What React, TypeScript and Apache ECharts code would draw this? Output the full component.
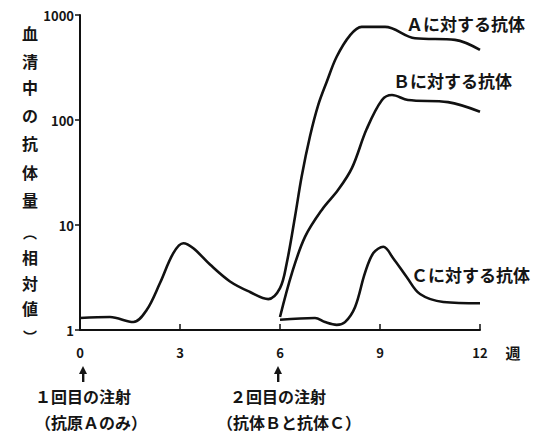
import React, { useEffect, useRef } from "react";
import * as echarts from "echarts";

// Antigen A: first injection (week 0), then second injection at week 6
const weeksA = [0, 0.9, 1.6, 2.0, 2.4, 2.8, 3.1, 3.4, 3.9, 4.5, 5.1, 5.65, 6.0, 6.2, 6.45, 6.65, 6.9, 7.15, 7.4, 7.7, 8.1, 8.45, 9.15, 10.05, 11.25, 12];
const valuesA = [1.3, 1.33, 1.19, 1.55, 2.8, 5.4, 6.7, 6.0, 4.2, 2.9, 2.3, 1.97, 2.5, 4.3, 12, 29, 70, 140, 230, 400, 640, 770, 770, 600, 580, 465];

const weeksB = [6.0, 6.36, 6.75, 7.26, 7.74, 8.16, 8.6, 9.06, 9.36, 9.84, 11.04, 12];
const valuesB = [1.33, 3.5, 7.7, 14, 21.5, 35, 82, 155, 173, 155, 148, 120];

const weeksC = [6.0, 7.05, 7.35, 7.7, 7.95, 8.25, 8.55, 8.8, 9.1, 9.4, 9.8, 10.2, 10.9, 12];
const valuesC = [1.25, 1.3, 1.19, 1.12, 1.19, 1.65, 3.5, 5.4, 6.2, 4.8, 3.2, 2.2, 1.85, 1.8];

const xTicks = [0, 3, 6, 9, 12];
const yTicks = [1, 10, 100, 1000];

const seriesLabels = ["Ａに対する抗体", "Ｂに対する抗体", "Ｃに対する抗体"];
const yNameChars = ["血", "清", "中", "の", "抗", "体", "量", "︵", "相", "対", "値", "︶"];
const injectionLabels = [
  ["１回目の注射", "（抗原Ａのみ）"],
  ["２回目の注射", "（抗体Ｂと抗体Ｃ）"],
];
const xUnit = "週";

const FONT = '"Noto Sans CJK JP", "Noto Sans", sans-serif';
const INK = "#151515";

function pairs(xs: number[], ys: number[]) {
  return xs.map((x, i) => [x, ys[i]]);
}

export default function App() {
  const ref = useRef<HTMLDivElement>(null);
  useEffect(() => {
    if (!ref.current) return;
    const chart = echarts.init(ref.current, undefined, { renderer: "svg" });

    const labelPos = [
      [406, 23],
      [393, 80],
      [411, 274],
    ];
    const yNameY = [33, 61, 87, 115, 143, 172, 200, 232, 257, 283, 308, 336];

    const graphics: any[] = [];
    seriesLabels.forEach((t, i) => {
      graphics.push({
        type: "text",
        x: labelPos[i][0],
        y: labelPos[i][1],
        style: { text: t, font: `bold 17px ${FONT}`, fill: INK, verticalAlign: "middle" },
      });
    });
    yNameChars.forEach((c, i) => {
      const paren = c === "︵" || c === "︶";
      graphics.push({
        type: "text",
        x: 30,
        y: yNameY[i],
        style: {
          text: c,
          font: `bold ${paren ? 14 : 16}px ${FONT}`,
          fill: INK,
          align: "center",
          verticalAlign: "middle",
        },
      });
    });
    // arrows + injection captions
    const arrowX = [83, 278];
    const capLeft = [
      [35, 35],
      [230, 217],
    ];
    arrowX.forEach((ax, i) => {
      graphics.push({
        type: "polygon",
        shape: { points: [[ax, 366], [ax - 4, 374], [ax + 4, 374]] },
        style: { fill: INK },
      });
      graphics.push({
        type: "rect",
        shape: { x: ax - 1, y: 372, width: 2.4, height: 10 },
        style: { fill: INK },
      });
      injectionLabels[i].forEach((t, j) => {
        graphics.push({
          type: "text",
          x: capLeft[i][j],
          y: j === 0 ? 396 : 422,
          style: {
            text: t,
            font: `bold 16px ${FONT}`,
            fill: INK,
            verticalAlign: "middle",
          },
        });
      });
    });
    graphics.push({
      type: "text",
      x: 513,
      y: 352,
      style: {
        text: xUnit,
        font: `bold 15px ${FONT}`,
        fill: INK,
        align: "center",
        verticalAlign: "middle",
      },
    });

    const lineStyle = { color: "#111", width: 2.6 };
    chart.setOption({
      animation: false,
      backgroundColor: "#fff",
      grid: { left: 80, right: 70, top: 15, bottom: 105, containLabel: false },
      xAxis: {
        type: "value",
        min: 0,
        max: 12,
        interval: 3,
        axisLine: { lineStyle: { color: "#111", width: 2 } },
        axisTick: { inside: true, length: 6, lineStyle: { color: "#111", width: 1.5 } },
        splitLine: { show: false },
        axisLabel: {
          margin: 16,
          fontSize: 13,
          fontFamily: FONT,
          fontWeight: "bold",
          color: INK,
          customValues: xTicks,
        },
      },
      yAxis: {
        type: "log",
        logBase: 10,
        min: 1,
        max: 1000,
        axisLine: { show: true, lineStyle: { color: "#111", width: 2 } },
        axisTick: { show: true, length: 5, lineStyle: { color: "#111", width: 1.5 } },
        splitLine: { show: false },
        minorTick: { show: false },
        axisLabel: {
          margin: 6,
          fontSize: 13,
          fontFamily: FONT,
          fontWeight: "bold",
          color: INK,
          customValues: yTicks,
          formatter: (v: number) => String(Math.round(v)),
        },
      },
      series: [
        { type: "line", data: pairs(weeksA, valuesA), smooth: 0.35, symbol: "none", lineStyle },
        { type: "line", data: pairs(weeksB, valuesB), smooth: 0.35, symbol: "none", lineStyle },
        { type: "line", data: pairs(weeksC, valuesC), smooth: 0.35, symbol: "none", lineStyle },
      ],
      graphic: graphics,
    });
    return () => chart.dispose();
  }, []);
  return (
    <div
      ref={ref}
      style={{ position: "fixed", left: 0, top: 0, width: 550, height: 435 }}
    />
  );
}
